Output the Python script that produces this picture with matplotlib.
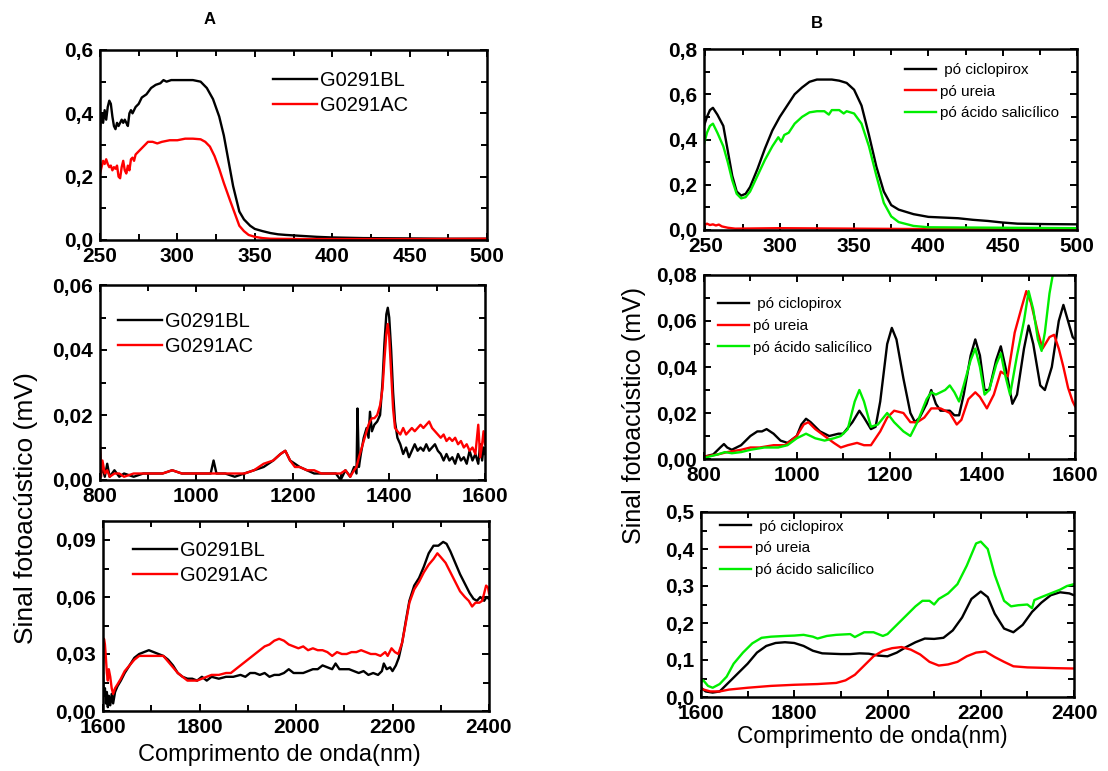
import matplotlib.pyplot as plt
from matplotlib.ticker import MultipleLocator, FuncFormatter

plt.rcParams['font.family'] = ['Liberation Sans', 'DejaVu Sans']

# ---- data (wavelength nm, signal mV) ----
A_UV_BL = [(250, 0.35), (251, 0.40), (252, 0.37), (253, 0.41), (254, 0.38), (255, 0.42), (256, 0.44),
           (257, 0.43), (258, 0.39), (259, 0.36), (260, 0.35), (261, 0.37), (262, 0.36), (263, 0.37),
           (264, 0.38), (265, 0.37), (266, 0.38), (267, 0.37), (268, 0.36), (269, 0.40), (270, 0.41),
           (271, 0.40), (273, 0.42), (275, 0.43), (277, 0.45), (280, 0.46), (283, 0.48), (286, 0.49),
           (289, 0.495), (291, 0.505), (293, 0.50), (296, 0.505), (300, 0.505), (305, 0.505),
           (310, 0.505), (315, 0.50), (319, 0.48), (323, 0.445), (327, 0.39), (330, 0.33), (333, 0.25),
           (336, 0.17), (340, 0.09), (343, 0.065), (347, 0.045), (350, 0.035), (355, 0.028),
           (360, 0.022), (365, 0.018), (370, 0.016), (380, 0.013), (390, 0.010), (400, 0.008),
           (420, 0.006), (450, 0.005), (475, 0.004), (500, 0.004)]
A_UV_AC = [(250, 0.21), (251, 0.23), (252, 0.25), (253, 0.24), (254, 0.255), (255, 0.24), (256, 0.23),
           (257, 0.235), (258, 0.22), (259, 0.23), (260, 0.225), (261, 0.235), (262, 0.20), (263, 0.195),
           (264, 0.23), (265, 0.25), (266, 0.22), (267, 0.21), (268, 0.235), (269, 0.22), (270, 0.255),
           (271, 0.26), (272, 0.25), (273, 0.27), (275, 0.28), (277, 0.29), (279, 0.30), (281, 0.31),
           (284, 0.31), (287, 0.305), (290, 0.31), (295, 0.315), (300, 0.315), (305, 0.32), (310, 0.32),
           (315, 0.318), (318, 0.31), (321, 0.295), (324, 0.265), (327, 0.225), (330, 0.18),
           (334, 0.125), (337, 0.085), (340, 0.045), (343, 0.028), (346, 0.016), (350, 0.01),
           (355, 0.006), (360, 0.004), (380, 0.003), (400, 0.003), (450, 0.003), (500, 0.004)]

A_VIS_BL = [(800, 0.010), (802, 0.002), (805, 0.004), (810, 0.001), (815, 0.005), (820, 0.001),
            (830, 0.003), (840, 0.001), (850, 0.002), (870, 0.001), (890, 0.002), (910, 0.002),
            (930, 0.002), (950, 0.003), (970, 0.002), (990, 0.002), (1010, 0.002), (1030, 0.002),
            (1036, 0.006), (1042, 0.002), (1060, 0.002), (1080, 0.001), (1100, 0.002), (1120, 0.003),
            (1140, 0.004), (1160, 0.006), (1175, 0.008), (1185, 0.009), (1195, 0.006), (1205, 0.005),
            (1215, 0.004), (1230, 0.003), (1245, 0.002), (1260, 0.002), (1275, 0.002), (1290, 0.002),
            (1300, 0.000), (1310, 0.003), (1320, 0.001), (1328, 0.004), (1333, 0.002), (1335, 0.022),
            (1338, 0.004), (1342, 0.008), (1348, 0.013), (1354, 0.016), (1358, 0.013), (1361, 0.021),
            (1365, 0.015), (1370, 0.017), (1376, 0.018), (1382, 0.020), (1387, 0.030), (1391, 0.042),
            (1395, 0.051), (1398, 0.053), (1401, 0.050), (1405, 0.040), (1409, 0.027), (1413, 0.018),
            (1418, 0.013), (1424, 0.011), (1430, 0.008), (1436, 0.010), (1442, 0.007), (1448, 0.009),
            (1454, 0.011), (1460, 0.009), (1466, 0.010), (1472, 0.009), (1478, 0.011), (1484, 0.009),
            (1490, 0.010), (1496, 0.011), (1502, 0.009), (1508, 0.008), (1514, 0.006), (1520, 0.008),
            (1526, 0.006), (1532, 0.007), (1538, 0.005), (1544, 0.008), (1550, 0.006), (1556, 0.007),
            (1562, 0.005), (1568, 0.009), (1574, 0.006), (1580, 0.008), (1586, 0.005), (1590, 0.011),
            (1594, 0.006), (1597, 0.010), (1600, 0.008)]
A_VIS_AC = [(800, 0.010), (802, 0.001), (805, 0.006), (810, 0.002), (815, 0.003), (820, 0.001),
            (830, 0.002), (840, 0.002), (850, 0.001), (870, 0.002), (890, 0.002), (910, 0.002),
            (930, 0.002), (950, 0.003), (970, 0.002), (990, 0.002), (1010, 0.002), (1030, 0.002),
            (1060, 0.002), (1080, 0.002), (1100, 0.002), (1120, 0.003), (1140, 0.005), (1160, 0.006),
            (1175, 0.008), (1185, 0.009), (1195, 0.006), (1205, 0.004), (1215, 0.004), (1230, 0.003),
            (1245, 0.003), (1260, 0.002), (1275, 0.002), (1290, 0.002), (1300, 0.002), (1310, 0.003),
            (1320, 0.001), (1328, 0.003), (1333, 0.004), (1338, 0.007), (1342, 0.009), (1348, 0.012),
            (1354, 0.015), (1358, 0.017), (1361, 0.018), (1365, 0.019), (1370, 0.019), (1376, 0.020),
            (1382, 0.023), (1387, 0.028), (1391, 0.037), (1395, 0.045), (1398, 0.048), (1401, 0.044),
            (1405, 0.033), (1409, 0.022), (1413, 0.016), (1418, 0.015), (1424, 0.014), (1430, 0.016),
            (1436, 0.014), (1442, 0.015), (1448, 0.016), (1454, 0.015), (1460, 0.016), (1466, 0.017),
            (1472, 0.016), (1478, 0.017), (1484, 0.018), (1490, 0.016), (1496, 0.015), (1502, 0.014),
            (1508, 0.013), (1514, 0.014), (1520, 0.012), (1526, 0.013), (1532, 0.012), (1538, 0.013),
            (1544, 0.011), (1550, 0.012), (1556, 0.010), (1562, 0.011), (1568, 0.009), (1574, 0.010),
            (1580, 0.008), (1586, 0.017), (1590, 0.007), (1594, 0.011), (1597, 0.015), (1600, 0.011)]

A_NIR_BL = [(1600, 0.020), (1602, 0.008), (1604, 0.012), (1606, 0.004), (1608, 0.010), (1610, 0.002),
            (1612, 0.008), (1615, 0.003), (1618, 0.009), (1621, 0.004), (1625, 0.010), (1630, 0.013),
            (1637, 0.016), (1645, 0.020), (1655, 0.024), (1665, 0.028), (1675, 0.030), (1685, 0.031),
            (1695, 0.032), (1705, 0.031), (1715, 0.030), (1725, 0.029), (1735, 0.027), (1745, 0.024),
            (1755, 0.020), (1765, 0.018), (1775, 0.017), (1785, 0.017), (1795, 0.016), (1805, 0.018),
            (1815, 0.016), (1825, 0.018), (1840, 0.017), (1855, 0.018), (1870, 0.018), (1885, 0.019),
            (1895, 0.018), (1905, 0.020), (1915, 0.020), (1925, 0.019), (1935, 0.020), (1945, 0.018),
            (1955, 0.019), (1965, 0.019), (1975, 0.020), (1985, 0.022), (1995, 0.020), (2005, 0.020),
            (2015, 0.020), (2025, 0.021), (2035, 0.022), (2045, 0.022), (2055, 0.024), (2065, 0.023),
            (2075, 0.022), (2082, 0.025), (2090, 0.022), (2100, 0.022), (2110, 0.022), (2120, 0.021),
            (2130, 0.020), (2140, 0.021), (2150, 0.019), (2160, 0.020), (2170, 0.019), (2178, 0.021),
            (2182, 0.025), (2188, 0.022), (2195, 0.023), (2200, 0.021), (2207, 0.024), (2213, 0.028),
            (2220, 0.036), (2228, 0.048), (2235, 0.058), (2245, 0.066), (2255, 0.070), (2265, 0.076),
            (2275, 0.083), (2285, 0.087), (2295, 0.087), (2305, 0.089), (2312, 0.088), (2320, 0.084),
            (2330, 0.078), (2340, 0.072), (2350, 0.067), (2360, 0.062), (2368, 0.059), (2375, 0.058),
            (2382, 0.060), (2390, 0.058), (2395, 0.060), (2400, 0.059)]
A_NIR_AC = [(1600, 0.018), (1602, 0.038), (1604, 0.035), (1606, 0.028), (1608, 0.020), (1610, 0.016),
            (1612, 0.022), (1615, 0.018), (1618, 0.012), (1621, 0.009), (1625, 0.012), (1630, 0.014),
            (1637, 0.017), (1645, 0.021), (1655, 0.024), (1665, 0.027), (1675, 0.029), (1685, 0.029),
            (1695, 0.029), (1705, 0.029), (1715, 0.029), (1725, 0.029), (1735, 0.026), (1745, 0.023),
            (1755, 0.020), (1765, 0.018), (1775, 0.016), (1785, 0.016), (1795, 0.016), (1805, 0.017),
            (1815, 0.018), (1825, 0.019), (1840, 0.019), (1855, 0.020), (1865, 0.020), (1875, 0.022),
            (1885, 0.024), (1895, 0.026), (1905, 0.028), (1915, 0.030), (1925, 0.032), (1935, 0.034),
            (1945, 0.035), (1955, 0.037), (1965, 0.038), (1975, 0.037), (1985, 0.035), (1995, 0.034),
            (2005, 0.033), (2015, 0.034), (2025, 0.032), (2035, 0.033), (2045, 0.032), (2055, 0.032),
            (2065, 0.031), (2075, 0.029), (2085, 0.031), (2095, 0.030), (2105, 0.030), (2115, 0.031),
            (2125, 0.031), (2135, 0.032), (2145, 0.031), (2155, 0.030), (2165, 0.030), (2175, 0.029),
            (2185, 0.031), (2190, 0.029), (2198, 0.033), (2205, 0.031), (2212, 0.030), (2220, 0.036),
            (2228, 0.047), (2235, 0.057), (2245, 0.064), (2255, 0.068), (2265, 0.073), (2275, 0.077),
            (2285, 0.080), (2293, 0.083), (2300, 0.081), (2310, 0.078), (2320, 0.073), (2330, 0.068),
            (2340, 0.063), (2350, 0.060), (2358, 0.058), (2365, 0.055), (2372, 0.057), (2380, 0.057),
            (2386, 0.058), (2390, 0.062), (2394, 0.066), (2398, 0.065), (2400, 0.062)]

B_UV_CIC = [(249, 0.46), (251, 0.50), (253, 0.53), (255, 0.54), (258, 0.51), (262, 0.46), (265, 0.35),
            (268, 0.24), (271, 0.17), (274, 0.152), (277, 0.16), (280, 0.19), (285, 0.27), (290, 0.36),
            (295, 0.44), (300, 0.50), (305, 0.55), (310, 0.60), (315, 0.63), (320, 0.655), (325, 0.665),
            (330, 0.665), (335, 0.665), (340, 0.66), (345, 0.65), (350, 0.62), (355, 0.55), (360, 0.42),
            (365, 0.28), (370, 0.17), (375, 0.11), (380, 0.09), (390, 0.07), (400, 0.058), (410, 0.055),
            (420, 0.052), (430, 0.045), (440, 0.04), (450, 0.033), (460, 0.028), (480, 0.026),
            (500, 0.025)]
B_UV_UREIA = [(249, 0.02), (251, 0.028), (253, 0.022), (255, 0.025), (257, 0.02), (259, 0.024),
              (261, 0.016), (265, 0.01), (270, 0.006), (300, 0.008), (350, 0.006), (400, 0.004),
              (450, 0.004), (500, 0.005)]
B_UV_SAL = [(249, 0.38), (251, 0.43), (253, 0.46), (255, 0.47), (258, 0.43), (262, 0.37), (265, 0.30),
            (268, 0.22), (271, 0.16), (274, 0.14), (277, 0.145), (280, 0.17), (285, 0.24), (290, 0.31),
            (295, 0.37), (299, 0.41), (301, 0.39), (303, 0.42), (306, 0.43), (310, 0.47), (315, 0.50),
            (320, 0.52), (325, 0.525), (330, 0.525), (333, 0.51), (335, 0.53), (340, 0.53), (343, 0.515),
            (345, 0.525), (350, 0.515), (355, 0.47), (360, 0.37), (365, 0.24), (370, 0.12), (375, 0.06),
            (380, 0.035), (390, 0.018), (400, 0.012), (450, 0.01), (500, 0.008)]

B_VIS_CIC = [(800, 0.001), (820, 0.002), (835, 0.005), (843, 0.0065), (850, 0.005), (860, 0.004),
             (880, 0.006), (900, 0.010), (915, 0.012), (925, 0.012), (935, 0.013), (950, 0.011),
             (965, 0.008), (980, 0.007), (1000, 0.010), (1010, 0.015), (1020, 0.0175), (1030, 0.016),
             (1050, 0.012), (1070, 0.010), (1090, 0.011), (1100, 0.011), (1120, 0.016), (1135, 0.021),
             (1145, 0.018), (1160, 0.013), (1170, 0.014), (1180, 0.025), (1195, 0.050), (1205, 0.057),
             (1215, 0.052), (1230, 0.035), (1245, 0.020), (1255, 0.016), (1265, 0.018), (1280, 0.024),
             (1290, 0.030), (1300, 0.024), (1310, 0.021), (1330, 0.021), (1340, 0.019), (1350, 0.019),
             (1360, 0.028), (1375, 0.045), (1385, 0.052), (1395, 0.045), (1405, 0.030), (1415, 0.030),
             (1430, 0.043), (1440, 0.049), (1450, 0.040), (1465, 0.024), (1475, 0.028), (1490, 0.048),
             (1500, 0.058), (1510, 0.050), (1525, 0.032), (1535, 0.030), (1550, 0.040), (1565, 0.060),
             (1575, 0.067), (1585, 0.060), (1595, 0.053), (1600, 0.052)]
B_VIS_UREIA = [(800, 0.001), (830, 0.002), (850, 0.003), (880, 0.004), (900, 0.005), (920, 0.005),
               (950, 0.006), (975, 0.006), (1000, 0.010), (1015, 0.015), (1025, 0.016), (1040, 0.013),
               (1060, 0.010), (1080, 0.007), (1095, 0.005), (1110, 0.006), (1130, 0.007), (1145, 0.006),
               (1160, 0.006), (1180, 0.012), (1195, 0.018), (1210, 0.021), (1230, 0.020), (1245, 0.016),
               (1260, 0.016), (1275, 0.018), (1290, 0.022), (1310, 0.022), (1330, 0.020), (1345, 0.015),
               (1355, 0.017), (1370, 0.026), (1385, 0.029), (1395, 0.027), (1410, 0.022), (1425, 0.028),
               (1440, 0.038), (1455, 0.036), (1470, 0.055), (1485, 0.066), (1495, 0.073), (1505, 0.068),
               (1520, 0.055), (1530, 0.048), (1545, 0.053), (1555, 0.054), (1565, 0.048), (1575, 0.040),
               (1585, 0.031), (1595, 0.025), (1600, 0.023)]
B_VIS_SAL = [(800, 0.0005), (830, 0.002), (845, 0.003), (860, 0.0025), (880, 0.003), (900, 0.004),
             (930, 0.005), (960, 0.005), (980, 0.006), (1000, 0.009), (1020, 0.011), (1040, 0.009),
             (1060, 0.008), (1080, 0.009), (1095, 0.010), (1110, 0.013), (1125, 0.025), (1135, 0.030),
             (1145, 0.025), (1160, 0.014), (1175, 0.015), (1195, 0.020), (1210, 0.016), (1230, 0.012),
             (1245, 0.010), (1260, 0.016), (1280, 0.026), (1290, 0.029), (1300, 0.028), (1320, 0.030),
             (1330, 0.032), (1340, 0.029), (1350, 0.025), (1360, 0.032), (1375, 0.043), (1385, 0.048),
             (1395, 0.040), (1405, 0.028), (1415, 0.030), (1430, 0.041), (1440, 0.046), (1450, 0.036),
             (1460, 0.028), (1475, 0.045), (1490, 0.060), (1500, 0.073), (1510, 0.065), (1520, 0.052),
             (1528, 0.047), (1535, 0.055), (1545, 0.072), (1552, 0.080), (1556, 0.086)]

B_NIR_CIC = [(1600, 0.025), (1610, 0.015), (1625, 0.012), (1640, 0.015), (1660, 0.040), (1680, 0.065),
             (1700, 0.090), (1720, 0.120), (1740, 0.138), (1760, 0.146), (1780, 0.148), (1800, 0.146),
             (1820, 0.138), (1840, 0.125), (1860, 0.118), (1880, 0.117), (1900, 0.116), (1920, 0.116),
             (1940, 0.118), (1960, 0.117), (1980, 0.112), (2000, 0.110), (2020, 0.120), (2040, 0.135),
             (2060, 0.148), (2080, 0.158), (2100, 0.157), (2120, 0.160), (2140, 0.180), (2160, 0.215),
             (2180, 0.265), (2200, 0.285), (2215, 0.270), (2230, 0.225), (2250, 0.185), (2270, 0.175),
             (2290, 0.195), (2310, 0.230), (2330, 0.255), (2350, 0.275), (2370, 0.283), (2390, 0.280),
             (2400, 0.275)]
B_NIR_UREIA = [(1600, 0.022), (1620, 0.015), (1640, 0.015), (1660, 0.020), (1700, 0.025), (1750, 0.030),
               (1800, 0.033), (1850, 0.035), (1890, 0.038), (1910, 0.045), (1930, 0.060), (1950, 0.085),
               (1970, 0.110), (1990, 0.125), (2010, 0.132), (2030, 0.135), (2050, 0.128), (2070, 0.115),
               (2090, 0.095), (2110, 0.085), (2130, 0.088), (2150, 0.095), (2170, 0.110), (2190, 0.120),
               (2210, 0.123), (2230, 0.108), (2250, 0.095), (2270, 0.083), (2300, 0.080), (2330, 0.079),
               (2360, 0.078), (2400, 0.077)]
B_NIR_SAL = [(1600, 0.040), (1605, 0.045), (1615, 0.030), (1625, 0.025), (1640, 0.035), (1655, 0.055),
             (1670, 0.090), (1690, 0.120), (1710, 0.145), (1730, 0.160), (1750, 0.163), (1780, 0.165),
             (1800, 0.166), (1820, 0.168), (1840, 0.163), (1850, 0.158), (1870, 0.165), (1890, 0.168),
             (1920, 0.170), (1930, 0.162), (1950, 0.175), (1970, 0.175), (1990, 0.165), (2000, 0.170),
             (2020, 0.195), (2040, 0.220), (2060, 0.245), (2075, 0.260), (2090, 0.260), (2100, 0.250),
             (2110, 0.265), (2130, 0.280), (2150, 0.305), (2170, 0.355), (2190, 0.415), (2200, 0.420),
             (2215, 0.400), (2230, 0.330), (2250, 0.260), (2265, 0.245), (2280, 0.248), (2300, 0.250),
             (2310, 0.240), (2315, 0.262), (2330, 0.270), (2350, 0.280), (2370, 0.290), (2385, 0.300),
             (2400, 0.305)]

LABELS_A = ['G0291BL', 'G0291AC']
LABELS_B = [' pó ciclopirox', 'pó ureia', 'pó ácido salicílico']

W, H = 1108, 771
fig = plt.figure(figsize=(W / 100, H / 100), dpi=100)


def rect(l, t, r, b):
    return [l / W, 1 - b / H, (r - l) / W, (b - t) / H]


def setup(ax, xlim, ylim, xmaj, xmin, ymaj, ymin, nd):
    ax.set_xlim(*xlim)
    ax.set_ylim(*ylim)
    ax.xaxis.set_major_locator(MultipleLocator(xmaj))
    ax.xaxis.set_minor_locator(MultipleLocator(xmin))
    ax.yaxis.set_major_locator(MultipleLocator(ymaj))
    ax.yaxis.set_minor_locator(MultipleLocator(ymin))
    ax.yaxis.set_major_formatter(FuncFormatter(lambda v, p: f"{v:.{nd}f}".replace('.', ',')))
    ax.tick_params(axis='x', which='both', direction='in', top=True, bottom=True, pad=5)
    ax.tick_params(axis='y', which='both', direction='in', left=True, right=True, pad=5)
    ax.tick_params(which='major', length=5, width=1.4, labelsize=15)
    ax.tick_params(which='minor', length=4, width=1.4)
    plt.setp(ax.get_xticklabels() + ax.get_yticklabels(), fontweight='bold')
    for s in ax.spines.values():
        s.set_linewidth(1.8)


def draw(ax, series, colors, labels, lw=1.7):
    for data, c, lab in zip(series, colors, labels):
        x, y = zip(*data)
        ax.plot(x, y, color=c, lw=lw, label=lab)


def legend(ax, anchor, size, hl, pad, spacing):
    ax.legend(loc='upper left', bbox_to_anchor=anchor, frameon=False, fontsize=size,
              handlelength=hl, handletextpad=pad, labelspacing=spacing,
              borderpad=0, borderaxespad=0)


# panel A
axA1 = fig.add_axes(rect(100, 50, 487, 240))
draw(axA1, [A_UV_BL, A_UV_AC], ['black', 'red'], LABELS_A)
setup(axA1, (250, 500), (0, 0.6), 50, 25, 0.2, 0.1, 1)
legend(axA1, (0.447, 0.889), 14.5, 2.2, 0.15, 0.3)

axA2 = fig.add_axes(rect(100, 285, 485, 480))
draw(axA2, [A_VIS_BL, A_VIS_AC], ['black', 'red'], LABELS_A)
setup(axA2, (800, 1600), (0, 0.06), 200, 100, 0.02, 0.01, 2)
legend(axA2, (0.047, 0.863), 14.5, 2.2, 0.15, 0.3)

axA3 = fig.add_axes(rect(103, 521, 489, 711))
draw(axA3, [A_NIR_BL, A_NIR_AC], ['black', 'red'], LABELS_A)
setup(axA3, (1600, 2400), (0, 0.1), 200, 100, 0.03, 0.015, 2)
legend(axA3, (0.078, 0.894), 14.5, 2.2, 0.15, 0.3)

fig.text(279 / W, 1 - 755 / H, 'Comprimento de onda(nm)', fontsize=17, ha='center', va='center')
fig.text(210 / W, 1 - 20 / H, 'A', fontsize=12, fontweight='bold', ha='center', va='center')
fig.text(26 / W, 1 - 508 / H, 'Sinal fotoacústico (mV)', fontsize=19, rotation=90,
         ha='center', va='center')

# panel B
colB = ['black', 'red', '#00ee00']
axB1 = fig.add_axes(rect(704, 49, 1077, 230))
draw(axB1, [B_UV_CIC, B_UV_UREIA, B_UV_SAL], colB, LABELS_B)
setup(axB1, (249, 500), (0, 0.8), 50, 25, 0.2, 0.1, 1)
legend(axB1, (0.539, 0.923), 11, 2.0, 0.3, 0.5)

axB2 = fig.add_axes(rect(704, 275, 1075, 459))
draw(axB2, [B_VIS_CIC, B_VIS_UREIA, B_VIS_SAL], colB, LABELS_B)
setup(axB2, (800, 1600), (0, 0.08), 200, 100, 0.02, 0.01, 2)
legend(axB2, (0.038, 0.879), 11, 2.0, 0.3, 0.5)

axB3 = fig.add_axes(rect(701, 512, 1074, 697))
draw(axB3, [B_NIR_CIC, B_NIR_UREIA, B_NIR_SAL], colB, LABELS_B)
setup(axB3, (1600, 2400), (0, 0.5), 200, 100, 0.1, 0.05, 1)
legend(axB3, (0.051, 0.959), 11, 2.0, 0.3, 0.5)

fig.text(872 / W, 1 - 736 / H, 'Comprimento de onda(nm)', fontsize=16.3, ha='center', va='center')
fig.text(817 / W, 1 - 23 / H, 'B', fontsize=12, fontweight='bold', ha='center', va='center')
fig.text(634 / W, 1 - 416 / H, 'Sinal fotoacústico (mV)', fontsize=18, rotation=90,
         ha='center', va='center')

fig.savefig('out.png', dpi=100)
